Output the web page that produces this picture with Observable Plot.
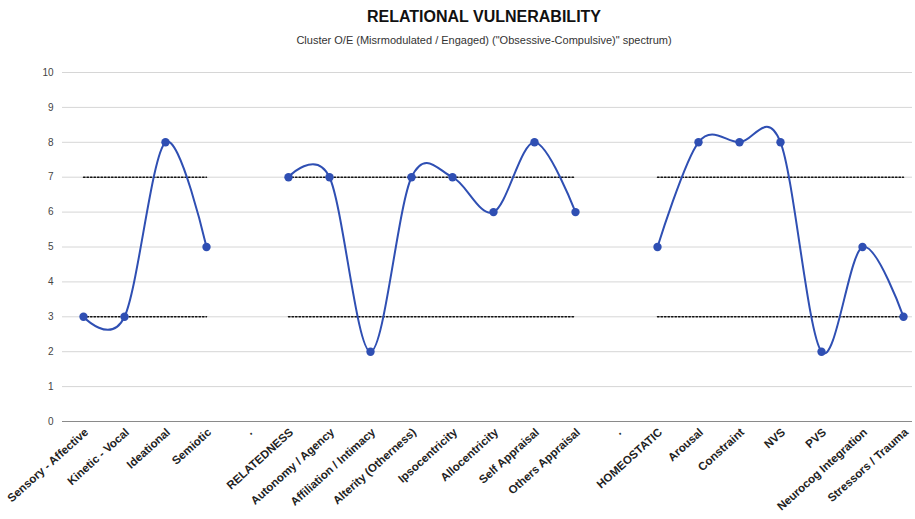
<!DOCTYPE html>
<html><head><meta charset="utf-8">
<script src="https://cdn.jsdelivr.net/npm/d3@7"></script>
<script src="https://cdn.jsdelivr.net/npm/@observablehq/plot@0.6"></script>
<style>
body{margin:0;background:#fff;font-family:"Liberation Sans",Arial,sans-serif;}
#wrap{width:915px;height:519px;position:relative;overflow:hidden}
#t{position:absolute;left:0;width:968px;top:7px;text-align:center;font-weight:bold;font-size:16px;line-height:20px;color:#111}
#s{position:absolute;left:0;width:968px;top:33px;text-align:center;font-size:11px;line-height:14px;color:#333}
#c{position:absolute;left:0;top:55px}
</style></head>
<body><div id="wrap">
<div id="t">RELATIONAL VULNERABILITY</div>
<div id="s">Cluster O/E (Misrmodulated / Engaged) ("Obsessive-Compulsive)" spectrum)</div>
<div id="c"></div>
</div>
<script>
const categories = ["Sensory - Affective","Kinetic - Vocal","Ideational","Semiotic",".","RELATEDNESS","Autonomy / Agency","Affiliation / Intimacy","Alterity (Otherness)","Ipsocentricity","Allocentricity","Self Appraisal","Others Appraisal",".","HOMEOSTATIC","Arousal","Constraint","NVS","PVS","Neurocog Integration","Stressors / Trauma"];
const values   = [3,3,8,5,null,7,7,2,7,7,6,8,6,null,5,8,8,8,2,5,3];
const upperRef = [7,7,7,7,null,7,7,7,7,7,7,7,7,null,7,7,7,7,7,7,7];
const lowerRef = [3,3,3,3,null,3,3,3,3,3,3,3,3,null,3,3,3,3,3,3,3];
const yTicks = [0,1,2,3,4,5,6,7,8,9,10];

const rows = categories.map((c,i)=>({i, label:c, v:values[i], hi:upperRef[i], lo:lowerRef[i]}));
const lineColor = "#2f4fb3";

const chart = Plot.plot({
  width: 915,
  height: 464,
  marginTop: 17,
  marginBottom: 98,
  marginLeft: 62,
  marginRight: 3,
  style: {fontFamily: "'Liberation Sans', Arial, sans-serif", background: "#fff"},
  x: {type: "point", padding: 0, domain: rows.map(d=>d.i), range: [83, 903]},
  y: {domain: [0, 10], range: [366, 17]},
  marks: [
    Plot.gridY(yTicks.filter(t=>t>0), {stroke: "#d6d6d6", strokeOpacity: 1}),
    Plot.ruleY([0], {stroke: "#8a8a8a", strokeWidth: 1.2}),
    Plot.line(rows, {x: "i", y: d=>d.hi, stroke: "#111", strokeWidth: 1.5, strokeDasharray: "1.5 2"}),
    Plot.line(rows, {x: "i", y: d=>d.lo, stroke: "#111", strokeWidth: 1.5, strokeDasharray: "1.5 2"}),
    Plot.line(rows, {x: "i", y: d=>d.v, stroke: lineColor, strokeWidth: 2, curve: "cardinal"}),
    Plot.dot(rows.filter(d=>d.v!=null), {x: "i", y: "v", r: 4.2, fill: lineColor, stroke: "none"}),
    Plot.axisY({ticks: yTicks, tickSize: 0, tickPadding: 9, fontSize: 10, fill: "#444", label: null}),
    Plot.axisX({tickSize: 0, tickPadding: 9, dx: 3, tickRotate: -42, fontSize: 11.5, fontWeight: "bold", fill: "#222", label: null, tickFormat: i=>categories[i]})
  ]
});
document.getElementById("c").appendChild(chart);
</script>
</body></html>
